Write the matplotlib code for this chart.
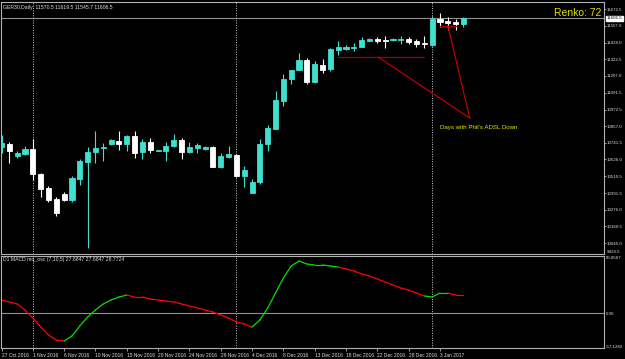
import matplotlib
matplotlib.use("Agg")
import matplotlib.pyplot as plt
import matplotlib.transforms as mtransforms
import numpy as np

# ---------------- data ----------------
opens = [10712.7, 10733.6, 10650.1, 10664.0, 10698.8, 10524.9, 10425.5, 10349.0, 10385.8, 10344.1,
         10490.2, 10610.5, 10675.9, 10703.7, 10733.6, 10756.6, 10733.6, 10791.3, 10675.9, 10749.6,
         10684.9, 10687.0, 10719.7, 10761.4, 10680.0, 10709.2, 10700.9, 10714.8, 10575.7, 10645.3,
         10657.1, 10513.1, 10394.9, 10471.4, 10733.6, 10840.0, 11034.7, 11185.7, 11248.3, 11317.8,
         11162.7, 11283.0, 11253.1, 11387.4, 11394.3, 11403.4, 11410.3, 11452.0, 11463.9, 11456.9,
         11454.8, 11454.8, 11463.9, 11447.9, 11438.1, 11420.0, 11600.9, 11587.0, 11580.0, 11570.5]
highs = [10796.2, 10749.6, 10684.9, 10719.7, 10768.4, 10531.9, 10441.5, 10362.8, 10397.6, 10511.0,
         10631.4, 10710.6, 10824.0, 10742.6, 10766.3, 10826.1, 10796.2, 10824.0, 10768.4, 10773.2,
         10695.3, 10749.6, 10803.1, 10773.2, 10745.4, 10742.6, 10719.7, 10719.7, 10673.1, 10719.7,
         10664.0, 10582.7, 10488.1, 10768.4, 10865.7, 11104.3, 11218.3, 11248.3, 11368.6, 11333.8,
         11313.0, 11322.7, 11399.2, 11452.0, 11422.1, 11438.1, 11475.7, 11468.7, 11479.9, 11486.8,
         11468.7, 11484.7, 11475.7, 11461.8, 11484.7, 11623.8, 11642.6, 11614.8, 11600.9, 11619.5]
lows = [10671.0, 10603.5, 10638.3, 10659.1, 10483.2, 10367.0, 10332.3, 10234.9, 10337.2, 10332.3,
        10448.4, 10012.3, 10603.5, 10615.3, 10726.6, 10691.9, 10687.0, 10634.1, 10629.3, 10673.1,
        10682.8, 10617.4, 10710.6, 10627.2, 10668.9, 10673.1, 10691.9, 10575.7, 10564.6, 10634.1,
        10506.2, 10436.6, 10390.7, 10455.4, 10687.0, 10840.0, 10997.9, 11150.9, 11248.3, 11150.9,
        11155.8, 11229.5, 11243.4, 11352.6, 11387.4, 11382.5, 11406.1, 11447.9, 11433.9, 11403.4,
        11450.0, 11427.0, 11429.1, 11410.3, 11403.4, 11415.2, 11549.4, 11526.4, 11526.4, 11545.7]
closes = [10740.5, 10684.9, 10673.1, 10700.9, 10522.8, 10420.6, 10344.1, 10251.6, 10344.1, 10495.0,
          10615.3, 10675.9, 10705.8, 10714.8, 10761.4, 10733.6, 10791.3, 10673.1, 10749.6, 10691.9,
          10691.9, 10719.7, 10761.4, 10680.0, 10714.8, 10726.6, 10714.8, 10575.7, 10650.1, 10662.0,
          10513.1, 10552.8, 10471.4, 10733.6, 10846.9, 11039.6, 11183.6, 11248.3, 11317.8, 11162.7,
          11290.0, 11248.3, 11392.2, 11406.1, 11410.3, 11410.3, 11456.9, 11463.9, 11450.0, 11450.0,
          11463.9, 11461.8, 11440.9, 11431.2, 11431.2, 11600.9, 11582.1, 11573.0, 11568.2, 11606.5]

macd = [20.0, 16.9, 13.9, 4.6, -7.7, -21.6, -33.9, -41.6, -43.1, -35.4,
        -20.0, -6.2, 4.6, 13.9, 20.0, 24.6, 27.7, 24.6, 24.6, 21.6,
        20.0, 18.5, 16.9, 13.9, 10.8, 7.7, 4.6, 1.5, -3.1, -7.7,
        -13.9, -16.9, -21.6, -10.8, 7.7, 30.8, 53.9, 72.4, 80.1, 75.5,
        73.9, 73.9, 72.4, 70.8, 67.8, 64.7, 60.1, 57.0, 52.4, 47.7,
        43.1, 38.5, 35.4, 30.8, 26.2, 24.6, 30.8, 30.8, 27.7, 27.7]
macd_up = [0]*9 + [1]*8 + [0]*16 + [1]*11 + [0]*11 + [1]*3 + [0]*2

date_labels = ["27 Oct 2016", "1 Nov 2016", "6 Nov 2016", "10 Nov 2016", "15 Nov 2016",
               "20 Nov 2016", "24 Nov 2016", "29 Nov 2016", "4 Dec 2016", "8 Dec 2016",
               "13 Dec 2016", "18 Dec 2016", "22 Dec 2016", "28 Dec 2016", "3 Jan 2017"]
date_label_bars = list(range(0, 60, 4))
period_separator_bars = [4, 30, 55]

price_ticks = [11672.5, 11557.0, 11438.0, 11322.5, 11207.0, 11091.5, 10972.5, 10857.0,
               10741.5, 10626.0, 10510.5, 10391.5, 10276.0, 10160.5, 10045.0]
price_ticks_text = ["11672.5", "11557.0", "11438.0", "11322.5", "11207.0", "11091.5", "10972.5",
                    "10857.0", "10741.5", "10626.0", "10510.5", "10391.5", "10276.0", "10160.5",
                    "10045.0"]
last_price = 11606.5

title_text = "GER30,Daily  11570.5 11619.5 11545.7 11606.5"
macd_text = "D1 MACD mq_osc (7,10,5) 27.6847 27.6847 28.7724"

# annotation objects (bar index, price)
hline1 = ([43, 54], [11338.7, 11338.7])
hline2 = ([56, 58], [11556.8, 11556.8])
diag1 = ([48.1, 59.8], [11338.7, 10914.4])
diag2 = ([57.0, 59.8], [11556.8, 10914.4])
note_pos = (56.0, 10850.0)

# ---------------- figure ----------------
W, H = 625, 359
fig = plt.figure(figsize=(W/100, H/100), dpi=100, facecolor="black")
plt.rcParams['font.family'] = ['Liberation Sans', 'DejaVu Sans']

def fr(x0, y0, x1, y1):
    return [x0/W, 1 - y1/H, (x1-x0)/W, (y1-y0)/H]

ax = fig.add_axes(fr(1, 2, 604, 254))
axm = fig.add_axes(fr(1, 256, 604, 348))

spine_col = "#b0b0b0"
text_col = "#e0e0e0"
bull = "#40e0d0"
bear = "#ffffff"
xlim = (-0.064, 76.95)
lab_fs = 3.2

for a in (ax, axm):
    a.set_facecolor("black")
    for s in a.spines.values():
        s.set_color(spine_col)
        s.set_linewidth(0.8)
    a.set_xlim(*xlim)

n = len(opens)
x = np.arange(n)
o = np.array(opens); c = np.array(closes); h = np.array(highs); l = np.array(lows)
up = c >= o
cols = np.where(up, bull, bear)

ax.vlines(x, l, h, colors=cols, linewidth=0.8, zorder=2)
bottoms = np.minimum(o, c)
heights = np.abs(c - o)
ax.bar(x, heights, bottom=bottoms, width=0.65, color=cols, edgecolor=cols,
       linewidth=0.6, zorder=3)

ax.set_ylim(9968.5, 11721.2)
ax.axhline(last_price, color="#909090", linewidth=0.8, zorder=1)

# ticks on price axis
ax.yaxis.tick_right()
ax.set_yticks(price_ticks)
ax.set_yticklabels(price_ticks_text)
ax.tick_params(axis='y', colors=spine_col, labelcolor=text_col, labelsize=lab_fs,
               length=1.5, width=0.6, pad=0.6)
ax.set_xticks([])

# last price box
ax.text(1.004, last_price, "11606.5",
        transform=mtransforms.blended_transform_factory(ax.transAxes, ax.transData),
        fontsize=lab_fs, color="black", va="center", ha="left",
        bbox=dict(facecolor="white", edgecolor="white", pad=0.5), clip_on=False)
ax.text(1.005, 0.0, "9929.5", transform=ax.transAxes, fontsize=lab_fs, color=text_col,
        va="bottom", ha="left", clip_on=False)

# separators
for b in period_separator_bars:
    for a in (ax, axm):
        a.axvline(b, color="#c8c8c8", linewidth=0.7, linestyle=(0, (1, 1.5)), zorder=1)

# annotations
ax.plot(*hline1, color="#a00000", linewidth=0.9, zorder=4)
ax.plot(*hline2, color="#a00000", linewidth=0.9, zorder=4)
ax.plot(*diag1, color="#d00000", linewidth=0.8, zorder=4)
ax.plot(*diag2, color="#d00000", linewidth=0.8, zorder=4)
ax.text(note_pos[0], note_pos[1], "Days with Phil's ADSL Down", fontsize=4.4,
        color="#e8e800", ha="left", va="center")
ax.text(0.995, 0.975, "Renko: 72", transform=ax.transAxes, fontsize=7.5, color="#e0e000",
        ha="right", va="top")
ax.text(0.004, 0.99, title_text, transform=ax.transAxes, fontsize=3.7, color=text_col,
        ha="left", va="top")

# MACD
m = np.array(macd)
for i in range(1, n):
    axm.plot([x[i-1], x[i]], [m[i-1], m[i]], color="#00e000" if macd_up[i] else "#ff0000",
             linewidth=0.9, solid_capstyle="round")
axm.set_ylim(-53.9, 87.8)
axm.axhline(0, color="#909090", linewidth=0.8, zorder=1)
axm.yaxis.tick_right()
axm.set_yticks([85.0, 0, -51.5])
axm.set_yticklabels(["50.8567", "0.00", "-57.1282"])
axm.tick_params(axis='y', colors=spine_col, labelcolor=text_col, labelsize=lab_fs,
                length=0, pad=1.5)
axm.text(0.004, 0.985, macd_text, transform=axm.transAxes, fontsize=3.7, color=text_col,
         ha="left", va="top")

axm.set_xticks(date_label_bars)
axm.set_xticklabels(date_labels, ha="left")
axm.tick_params(axis='x', colors=spine_col, labelcolor=text_col, labelsize=lab_fs + 0.3,
                length=2, width=0.6, pad=1.5)

fig.savefig("out.png", dpi=100, facecolor="black")
